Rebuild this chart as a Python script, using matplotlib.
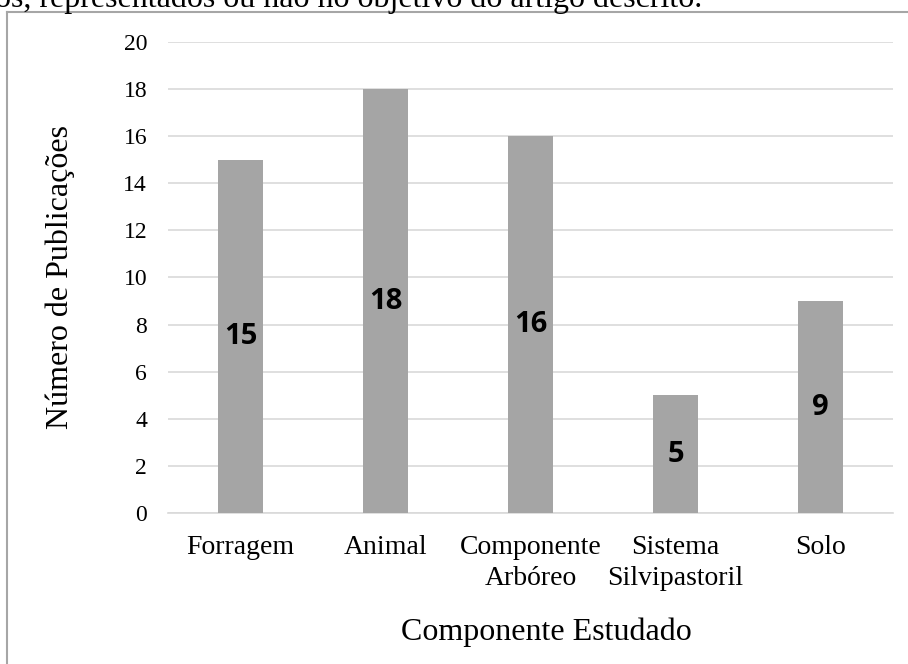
import matplotlib.pyplot as plt
from matplotlib.lines import Line2D

categorias = ['Forragem', 'Animal', 'Componente\nArbóreo', 'Sistema\nSilvipastoril', 'Solo']
publicacoes = [15, 18, 16, 5, 9]
yticks = list(range(0, 21, 2))

W, H = 908, 664
fig = plt.figure(figsize=(W / 100, H / 100), dpi=100)
plt.rcParams['font.family'] = ['Liberation Serif', 'DejaVu Serif']

# area do grafico (pixels -> fracao)
x0, x1 = 168, 893
y0, y1 = 513, 42
ax = fig.add_axes([x0 / W, 1 - y0 / H, (x1 - x0) / W, (y0 - y1) / H])

x = list(range(len(categorias)))
bars = ax.bar(x, publicacoes, width=0.317, color='#a5a5a5', zorder=3)
ax.set_xlim(-0.5, len(categorias) - 0.5)
ax.set_ylim(0, 20)
ax.set_yticks(yticks)
ax.set_xticks(x)
ax.set_xticklabels(categorias, fontsize=20, linespacing=1.28)
ax.tick_params(axis='y', labelsize=17, length=0, pad=15)
ax.tick_params(axis='x', length=0, pad=16)
ax.grid(axis='y', color='#d9d9d9', linewidth=1.2, zorder=0)
for s in ['top', 'right', 'left']:
    ax.spines[s].set_visible(False)
ax.spines['bottom'].set_color('#d9d9d9')
ax.spines['bottom'].set_linewidth(1.2)

for b, v in zip(bars, publicacoes):
    ax.text(b.get_x() + b.get_width() / 2, v / 2, str(v), ha='center', va='center',
            fontsize=21, fontweight='bold', family=['Open Sans', 'DejaVu Sans'], zorder=4)

fig.text(60 / W, 1 - 277 / H, 'Número de Publicações', rotation=90, fontsize=23,
         ha='center', va='center')
fig.text(546 / W, 1 - 632 / H, 'Componente Estudado', fontsize=23, ha='center', va='center')

# texto cortado no topo
fig.text(-0.005, 1 - 7 / H, 'os, representados ou não no objetivo do artigo descrito.',
         fontsize=23, ha='left', va='baseline')

# borda da caixa do grafico
fig.add_artist(Line2D([7 / W, 1], [1 - 12 / H, 1 - 12 / H], color='#a6a6a6', lw=1.5))
fig.add_artist(Line2D([7 / W, 7 / W], [0, 1 - 12 / H], color='#a6a6a6', lw=1.5))

fig.savefig('out.png', dpi=100)
